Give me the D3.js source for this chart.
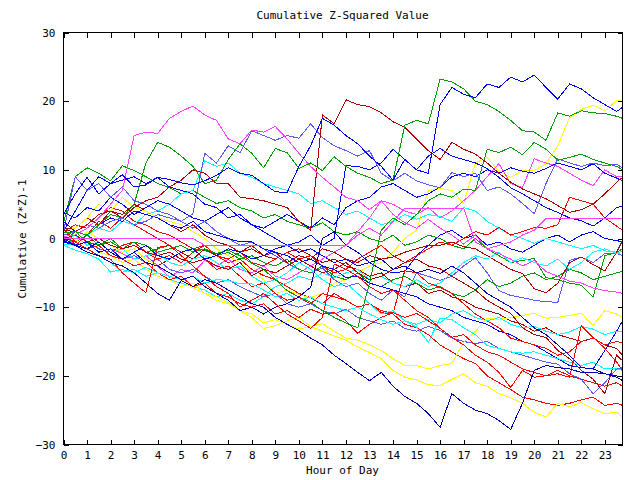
<!DOCTYPE html>
<html><head><meta charset="utf-8">
<script src="https://cdn.jsdelivr.net/npm/d3@7"></script>
<style>
body{margin:0;background:#fff}
svg text{font-family:"DejaVu Sans Mono",monospace;font-size:11px;fill:#000}
</style>
</head><body>
<svg id="c" width="640" height="480"></svg>
<script>
// ---- data ----
const hours = [0,0.5,1,1.5,2,2.5,3,3.5,4,4.5,5,5.5,6,6.5,7,7.5,8,8.5,9,9.5,10,10.5,11,11.5,12,12.5,13,13.5,14,14.5,15,15.5,16,16.5,17,17.5,18,18.5,19,19.5,20,20.5,21,21.5,22,22.5,23,23.5,23.75];
const xTickValues = [0,1,2,3,4,5,6,7,8,9,10,11,12,13,14,15,16,17,18,19,20,21,22,23];
const yTickValues = [-30,-20,-10,0,10,20,30];

const magentaHigh = [0.3,0.5,1.5,3,5,7,15,15.5,15.3,17.5, 18.5,19.3,18,17.2,14.5,13.8,15.8,15.5,16.3,14.5, 12.4,10.5,8.9,7.5,6,5.5,4.2,5.5,3.5,2.3, 1.5,2.8,1.5,0.5,-0.8,0.5,-1.5,-2.2,-3,-4, -3.2,-4.8,-5.5,-6.2,-6.5,-7.2,-7.6,-7.8,-8];
const greenHigh = [0.8,1,0.5,2,3.5,3,5,11,14,13.3, 12,10.5,8,8.5,11.5,13.8,12.4,10.3,13.1,12.5, 10.2,11,9.9,11.9,10.5,9.5,8.9,8,8.5,16.5, 17.2,16.7,23.2,22.8,21.8,20,19.5,18.5,17.2,15.7, 15.5,14.3,18.3,17.8,18.6,18.3,18.2,17.8,17.5];
const blueA = [3.5,6.5,8.9,6.5,8,9.3,7.5,7.8,8.9,8.6, 8.1,7.8,8.4,9.2,10.3,9.5,9.2,8,6.8,6.7, 10.5,13.5,17.5,16.5,15,13.8,12,10.5,8.5,11.5, 10,9.5,19.5,22,21,20.5,22.5,22,23.5,22.8, 23.8,22,20.3,22.5,21.8,20.5,19.5,18.5,19.1];
const darkD = [1.2,1,2,3.5,4,3,4.5,5.5,6,7.5, 8.5,10,9.5,8,8,6,5.8,5.5,5,4.5, 2.5,1.2,18,16.7,20.2,19.5,19.2,18.3,17,16.2, 14.5,12.8,11.5,14,13,12.3,11,9.5,8.2,7.2, 6.5,5.8,4.8,3.8,4.2,5,6.5,8.2,8.9];
const yellowC = [1,1.5,3,5,4,6,4.5,4,3,2.5, 2,1,0,-1.5,-2.5,-3.5,-5,-6,-8,-7.5, -8.2,-8.6,-8,-6.5,-6,-5,-4,-3.5,-2,0, 1.2,7,7.3,7,5.1,11,11.8,9.8,8.9,9.9, 9.9,10.9,13.5,17.6,18.8,19.4,18.6,20.1,20];
const navyLow = [-0.3,-1,-2,-2.5,-3.5,-4,-5,-6.5,-8,-9, -6.1,-7,-6,-6.5,-7.5,-8.5,-9.5,-10,-11.5,-12.5, -13.4,-14.5,-15.5,-17,-18.2,-19.5,-20.7,-19.5,-21.5,-23, -24,-25.5,-27.5,-22.6,-24,-25,-25.5,-26.5,-27.8,-24, -19.2,-18.5,-18.8,-19,-19.5,-19.5,-19.7,-20.2,-20.7];
const greenMid = [-0.5,1,-0.5,-1,0,-1.5,-0.5,-1,-2,-1.5, -1,-2,-1.5,-2.2,-1.7,-2.5,-3.6,-4.5,-6,-7.6, -8.5,-9.3,-10.5,-11.5,-12.3,-13,-6.5,1.2,3,2, 3.5,5.5,6.5,6,7.2,7,13,12.5,13.3,12.2, 14,13,11.4,11.8,12.3,11.5,11,10.5,10];
const yellowY2 = [0.5,-0.5,1,0,-1,-2,-1.5,-3,-4,-5, -6,-7.2,-8,-8.5,-9.3,-10.5,-11.5,-13.1,-12.7,-12, -11.5,-12.8,-12.4,-13.5,-14.5,-14.8,-15.5,-16.3,-17.5,-18.5, -18.5,-19,-18.5,-18.2,-15.1,-13.5,-11.6,-11.8,-11.5,-11.2, -10.9,-11.6,-11.5,-11.2,-10.9,-12.7,-10.5,-11,-11.5];
const yellowY3 = [-0.5,-1,-0.5,-2,-2.5,-3.5,-3,-4.5,-5.5,-6, -7,-6.5,-8,-9,-9.5,-10.5,-11,-12.3,-11.8,-12.5, -13.2,-12.8,-13.5,-14.2,-14.8,-15.8,-16.6,-17.5,-19.2,-20.2, -20.6,-21.3,-21.4,-20.5,-19.7,-21,-21.5,-22.6,-23.2,-24, -25.3,-26,-24,-24.5,-23.9,-24.8,-25.5,-25.3,-26];
const redR1 = [1.5,-0.5,-1.5,-2.5,-3,-5,-6.5,-7.9,-1.3,-1, -2.5,-4,-5.5,-7,-8,-10,-9,-8,-9.5,-11, -12,-13.1,-11.5,-3.7,-4.5,-5.5,-7,-8,-7.5,-9, -10.5,-11.5,-13.1,-14.4,-15.5,-17,-18,-19.5,-21.7,-19.2, -20.2,-20,-19.7,-20.2,-12.7,-14.4,-16,-18,-19.2];
const redR2 = [1,2,1.5,3,4.5,4,2.5,2,1,0.5, -0.5,-1.5,-1,-2.5,-3.5,-3,-4.5,-5.4,-6,-7, -8,-8.6,-9.5,-8,-9,-10,-9.5,-10.8,-11,-12.5, -13,-14,-15.5,-16.5,-17.5,-18.2,-20,-21,-22,-23.1, -23.5,-24,-24.3,-24,-23.5,-23.1,-24.3,-24,-24.3];
const darkDR2 = [0,0.5,-0.5,0,-1,-1.5,-1,-2,-2.5,-2, -3,-3.5,-3,-4,-4.5,-3.5,-5.4,-4.5,-5,-4, -3,-4,-5,-4.5,-3.5,-5,-6,-5.5,-4.5,-3.5, -3,-4,-4.4,-5.5,-6.5,-7.5,-9,-10,-10.9,-13, -14,-14.4,-16.3,-17.5,-19.2,-20.5,-22.6,-17,-17.8];
const darkDR3 = [1.5,-1,-1.5,-1,-2.5,-3,-2.5,-3.5,-4,-3, -2,-3,-1.5,-2.5,-1.5,-2,-1,-2.5,-2,-3.5, -2.5,-3,-1.5,-2,-3,-3.5,-2.5,-3,-2.7,-2, -1.5,-1,-1,-0.5,-1.2,-1.5,-2.5,-3.5,-4.5,-5.1, -7.3,-7.9,-6.5,-3.5,-2.7,-3.8,-4.7,-2,-0.3];
const lightL1 = [0.5,1,2,1.5,2.5,3,2,2.5,3.5,3, 2.5,3.6,12.4,11,13.5,12.5,15.7,15,14.3,15, 14.6,16.7,14.7,13.5,12.8,12,12.8,9.5,8.4,9.5, 8.4,7.8,7.4,9.6,9,9.5,7,7.5,6.5,5.1, 3.6,8,11.6,11,10.5,11,10.6,10.8,10.3];
const lightL3 = [1,9,7,8,6,7.5,5.5,5,4,3.5, 2.5,1.5,2.5,1,0,-1,-0.5,-1.5,-2.5,-3.6, -4.5,-5,-4.3,-6,-7,-6.5,-8,-9,-7.5,-8.5, -5,-5.5,-6.1,-5.5,-4,-2.8,-5,-7.6,-8.3,-8.6, -9,-9.2,-9.3,-3.2,-2.7,-3.5,-2.2,-2.2,-2.5];
const lightL4 = [-0.5,-1,-0.5,-1.5,-2,-3,-2.5,-3.5,-3,-4.5, -5,-4.5,-5.5,-6.5,-6,-7,-7.8,-8.5,-8,-9.5, -10,-9.5,-10.5,-11,-10.3,-11.5,-12,-12.5,-12,-13.1, -13.5,-12.8,-13.4,-14.5,-15,-15.3,-15,-16,-16.5,-17, -17.5,-18,-18.3,-19.7,-20.5,-22.6,-21,-19,-18.8];
const cyanC1 = [-1,-1.7,-2.2,-3,-4.9,-4.5,-5,-4.2,-5,-5.5, -6,-5.5,-6.5,-6,-6.1,-6.6,-6.6,-7.5,-8.5,-8, -9,-8.5,-9.5,-10,-10.5,-10,-11,-11.8,-12.5,-12, -12.9,-15.1,-11.6,-11.8,-13,-14,-15.6,-16,-16.5,-16.7, -16.5,-17,-17.5,-18,-18.5,-18,-19,-19,-19.2];
const cyanC2 = [0.5,-0.5,0.5,1.5,1,2.5,2,3.5,4,5, 6.5,7,11.3,10.5,11,9.5,8.9,8,7.5,7, 6.5,5.1,5.5,4.5,3.5,4,3,2,2.5,3.5, 2.8,3.5,3.2,2.5,4.5,4,2.5,1.5,0.5,0, -0.7,0,-0.5,-1,-1.5,-1,-1.8,-2,-2.5];
const cyanC3 = [-0.8,-1,-1.5,-2.5,-3.5,-4.9,-4.5,-5.5,-5,-6, -6.5,-7,-7.5,-8.5,-8,-9,-9.5,-8.5,-7,-6.5, -5.5,-6,-5,-5.7,-5,-4.5,-6,-5.5,-6.5,-7, -6,-7,-6.5,-5,-3.5,-2.5,-3,-2,-3.5,-2.8, -3.5,-4,-3,-4.5,-3.5,-2,-1.5,-2.2,-1.8];
const cyanC4 = [-0.3,0.5,-1,-0.5,-2,-1.5,-3,-2.5,-2,-3.5, -4,-3,-2.5,-3.5,-4.5,-4,-5.5,-6.5,-6,-5, -3.5,-4.5,-6,-7,-6.5,-8,-9.5,-11,-10.5,-12, -12.5,-11.8,-12.3,-11,-10.5,-11.5,-12,-11.5,-12.5,-13, -12.8,-13.5,-14,-13.6,-12.8,-13.2,-14,-13.5,-13.5];
const blueB2 = [2.5,1,0.5,2,3,2.5,4,3.5,3,2, 1.5,2.5,1,0.5,0,-0.5,-0.5,-1.5,-2,-2.5, -3.5,-3,-4,-4.5,-5.7,-5.5,-6.5,-7,-7.5,-8, -8.5,-9.5,-10,-10.5,-11.5,-12,-12.5,-13.5,-14,-15, -15.5,-16.5,-17.5,-18.5,-18.8,-19,-16.3,-13.5,-12];
const navyB3 = [0,-1,-1.5,-0.5,-2,-3,-2,-3.5,-4,-5, -6,-5.5,-7,-8,-9,-10.5,-10,-11,-10,-9.5, -8.5,-7.1,0,1,-1,-2,-3.5,-3,-4.5,-4, -5,-4.5,-5.1,-4,-5,-6.5,-8,-9,-10,-11.5, -13,-14,-15.5,-17,-18.8,-19,-19.7,-20,-20.2];
const blueB4 = [-0.5,-1,-0.5,-2,-1.5,-3,-2,-1,-2.5,-3, -2,-1.5,-3,-2.5,-1.5,-2,-3,-2.5,-1.5,-1, -0.5,0.5,-1,0,10.6,10.5,10,11,13,11.5, 10,12,13.1,12,11.5,11,10.2,8.9,7.4,6.5, 5.5,4.5,3.8,3,2.6,1.8,3,4.5,4.7];
const blueB5 = [3.8,3,4.5,4,6,5,3.5,4.5,5.5,5, 4,3,2.5,3.5,4.5,3,2,1.5,2.5,3.5, 2.5,1.5,3,2,4.5,5.5,6,7.5,8,7, 6,6.5,7.5,9,9.5,9,10,9.5,10.3,9.8, 9.5,10.2,11,10.5,10,10.9,9.5,8.8,8.4];
const blueB6 = [1,4,7,9,8,8.5,9,8,8.9,7.5, 7,6.5,5,4.5,3,3.5,2,1,0,-1, -2,-1.5,-2.5,-3.5,-3,-4,-3.5,-4.5,-5,-4.8, -2.5,-1,0.5,1.2,0,0.5,-1,-0.5,-1.5,-2, -1,0,0.5,-0.5,0.5,1,0,-0.3,-0.5];
const greenG3 = [2.3,9,10.3,9.5,8.4,10.6,9.9,9,8,7.4, 6.5,7,6,5.1,5.5,4.5,4,3,3.5,2.5, 2,1.5,2.3,1,0.5,1,0,-0.5,0.5,-1, -0.5,0.5,0,-1,-1.5,0,-1.5,-2.5,-3.5,-3.2, -2.9,-5.7,-6,-6.5,-6.8,-8.5,-2.5,-2,-1.5];
const greenG4 = [0.2,-0.5,0.5,-1,-0.5,-1.5,-1,-2,-1.5,-1, -2,-1.5,-1.7,-2.5,-2,-3,-2.5,-3.5,-4,-3, -4.5,-5,-4,-5.5,-6,-5,-6.5,-7,-6,-5.5, -6.5,-7.5,-7,-8,-8.5,-7.5,-6,-7,-6.5,-5.5, -5,-6,-5.5,-4.5,-5,-6,-5.5,-5,-4.8];
const magentaM2 = [0,0,0,0,0,0,0,0,0,0, 0,0,-1,-1,-1,-1,-1,-1,-1,-1, -1,-1,-1,-1,-1,0.5,1.5,0.5,2.5,4.4, 4.4,4.4,4.4,4.4,4.4,-0.5,-1.5,-1,-0.5,0.5, 1.2,2.9,2.9,2.9,2.9,2.9,2.9,2.9,2.9];
const magentaM3 = [0.5,-1,-0.5,-2,-1.5,-2.2,-3,-2.5,-4,-5.7, -4.5,-5,-3.2,-4,-3,-4.5,-5,-4,-5.5,-6, -5,-4,-3,-2,-1,1,3,5.5,5,4, 3.5,4.5,3,4,5.5,7,9,10.9,8,7.4, 11.6,11,10.5,9.5,8.5,7.7,10,9,9];
const darkDR4 = [1.5,1.5,3,2,4,3.5,5,4,3,2, 1,2,0.5,-0.5,-1,-2,-1.5,-2.5,-3,-2, -1.5,-2.5,-3.5,-3,-4,-4.5,-5.5,-5,-6.5,-7, -6.5,-8,-7.5,-8.5,-9,-10,-10.5,-11,-12,-12.5, -13.5,-13,-14,-14.5,-15,-14.5,-15.5,-16,-17];
const redR3 = [0.5,1,0.5,2.5,1.5,3,2,1,0,-1, -2,-1.5,-3,-4.5,-4,-5.5,-7,-6.5,-8,-9, -8.6,-9.5,-8,-8.5,-9,-10,-9.5,-10.5,-10.9,-4.7, -5,-6.5,-7.1,-8,-9.5,-11,-12,-13,-14.5,-15, -15.5,-16,-17,-16.5,-15,-14.5,-15.5,-15,-15.2];
const redR4 = [-0.5,-1,0.5,-0.5,-2,-1,-0.5,-2,-3,-2.5, -3.5,-2,-1,-2.5,-3,-2,-3.5,-4,-3,-2, -3,-2.5,-4,-5,-4.5,-3,-2,-1,-2.5,-3.5, -2.5,-1.5,-0.5,-1,0,1,0.5,1.6,0.5,1, 1.6,1.5,2,6,5.5,5,3,1.8,1.2];
const redR5 = [0.3,-0.5,-1.5,-1,-2.5,-3,-4,-3.5,-5,-6, -5.5,-7,-6.5,-8,-8.5,-9.5,-10,-9.5,-11,-10.5, -11.5,-10.3,-11,-10.8,-12,-13.8,-12.5,-11.5,-10.8,-11.5, -10.9,-12,-13.1,-14.4,-14,-15.5,-16.5,-17,-18,-19, -19.5,-20,-19.2,-20,-20.5,-21,-21.5,-21,-21.5];

const seriesValues = [blueB6, greenG3, redR2, darkDR4, yellowC, magentaM3, cyanC2, blueB5, lightL3,
  greenG4, redR4, darkDR3, cyanC3, blueB2, lightL4, redR3, cyanC4, greenMid, yellowY2, yellowY3,
  redR5, darkDR2, cyanC1, navyB3, blueB4, magentaM2, redR1, lightL1, darkD, magentaHigh, greenHigh, navyLow, blueA];
const seriesColors = ["#0000ff","#00a000","#ff0000","#b00000","#ffff00","#ff40ff","#00ffff","#0000ff","#5a5aff",
  "#00a000","#ff0000","#b00000","#00ffff","#0000ff","#5a5aff","#ff0000","#00ffff","#00a000","#ffff00","#ffff00",
  "#ff0000","#b00000","#00ffff","#0000b0","#0000ff","#ff40ff","#ff0000","#5a5aff","#b00000","#ff40ff","#00a000","#0000b0","#0000ff"];

// ---- drawing ----
const svg = d3.select("#c");
svg.append("rect").attr("width",640).attr("height",480).attr("fill","#fff");
const L = 63.5, R = 622.5, T = 32.5, B = 444.5;
const x = d3.scaleLinear().domain([0,23.75]).range([L,R]);
const y = d3.scaleLinear().domain([-30,30]).range([B,T]);

const line = d3.line().x((d,i)=>x(hours[i])).y(d=>y(d));
const g = svg.append("g");
seriesValues.forEach((vals,k)=>{
  g.append("path").attr("d",line(vals)).attr("fill","none")
   .attr("stroke",seriesColors[k]).attr("stroke-width",1)
   .attr("shape-rendering","crispEdges");
});

function styleAxis(sel){
  sel.select(".domain").remove();
  sel.selectAll("line").attr("stroke","#000").attr("shape-rendering","crispEdges");
  sel.selectAll("text").attr("font-family",null).attr("font-size",null).attr("fill","#000");
}
svg.append("g").attr("transform",`translate(0,${B})`)
  .call(d3.axisBottom(x).tickValues(xTickValues).tickSize(-5).tickPadding(7).tickFormat(d3.format("d")))
  .call(styleAxis);
svg.append("g").attr("transform",`translate(0,${T})`)
  .call(d3.axisTop(x).tickValues(xTickValues).tickSize(-5).tickFormat(""))
  .call(styleAxis);
svg.append("g").attr("transform",`translate(${L},0)`)
  .call(d3.axisLeft(y).tickValues(yTickValues).tickSize(-5).tickPadding(8).tickFormat(d3.format("d")))
  .call(styleAxis);
svg.append("g").attr("transform",`translate(${R},0)`)
  .call(d3.axisRight(y).tickValues(yTickValues).tickSize(-5).tickFormat(""))
  .call(styleAxis);

svg.append("rect").attr("x",L).attr("y",T).attr("width",R-L).attr("height",B-T)
  .attr("fill","none").attr("stroke","#000").attr("shape-rendering","crispEdges");

svg.append("text").attr("x",342.5).attr("y",19).attr("text-anchor","middle").text("Cumulative Z-Squared Value");
svg.append("text").attr("x",342.5).attr("y",474).attr("text-anchor","middle").text("Hour of Day");
svg.append("text").attr("transform","translate(26,239) rotate(-90)").attr("text-anchor","middle").text("Cumulative (Z*Z)-1");
</script>
</body></html>
